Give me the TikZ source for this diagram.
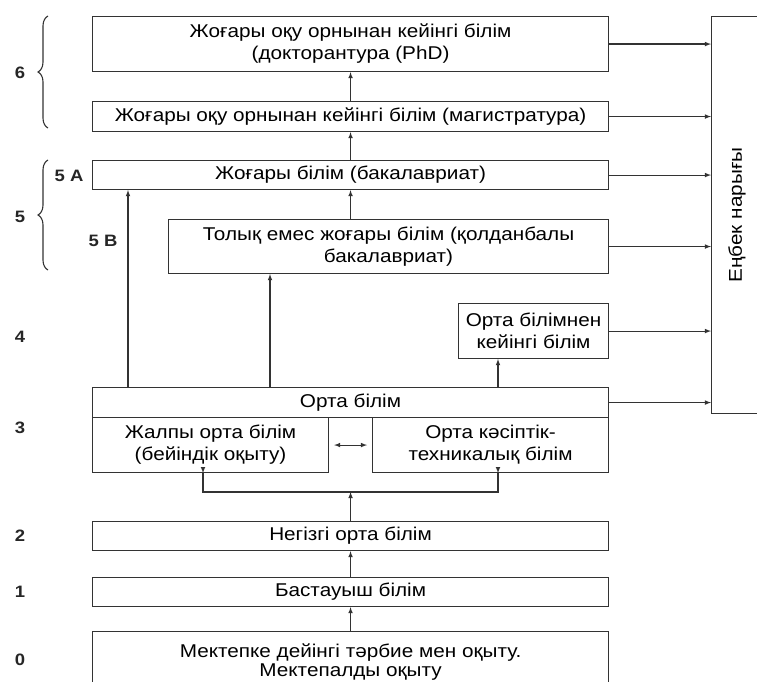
\documentclass[tikz,border=0pt]{standalone}
\usepackage{fontspec}
\setmainfont[FakeStretch=1.12]{Liberation Sans}
\usepackage{tikz}
\usetikzlibrary{arrows.meta,positioning,calc,decorations.pathreplacing}
\tikzset{>=latex}
\tikzset{
  box/.style={draw=black!80, line width=1.1pt, anchor=north west, align=center, inner sep=0pt,
    font=\fontsize{18.5}{22}\selectfont},
  lvl/.style={font=\fontsize{16.5}{18}\selectfont\bfseries, text=black!85},
  arr/.style={->, draw=black!80, line width=1.1pt},
  brc/.style={draw=black!80, line width=1.1pt, decorate, decoration={brace,amplitude=10pt}}
}

\begin{document}
\begin{tikzpicture}[x=1pt,y=-1pt]
    \useasboundingbox (0,0) rectangle (757,682);
    \clip (0,0) rectangle (757,682);
    % boxes
    \node[box, minimum width=516pt, minimum height=55pt] (phd) at (92,16) {Жоғары оқу орнынан кейінгі білім\\(докторантура (PhD)};
    \node[box, minimum width=516pt, minimum height=30pt] (mag) at (92,101) {Жоғары оқу орнынан кейінгі білім (магистратура)};
    \node[box, minimum width=516pt, minimum height=29pt] (bak) at (92,160) {Жоғары білім (бакалавриат)};
    \node[box, minimum width=440pt, minimum height=54pt] (tolyq) at (168,219) {Толық емес жоғары білім (қолданбалы\\бакалавриат)};
    \node[box, minimum width=150pt, minimum height=55pt] (ortakei) at (458,303) {Орта білімнен\\кейінгі білім};
    \node[box, minimum width=516pt, minimum height=30pt] (orta) at (92,387) {Орта білім};
    \node[box, minimum width=236pt, minimum height=55pt] (zhalpy) at (92,417) {Жалпы орта білім\\(бейіндік оқыту)};
    \node[box, minimum width=236pt, minimum height=55pt] (kasip) at (372,417) {Орта кәсіптік-\\техникалық білім};
    \node[box, minimum width=516pt, minimum height=29pt] (negizgi) at (92,521) {Негізгі орта білім};
    \node[box, minimum width=516pt, minimum height=29pt] (bastau) at (92,577) {Бастауыш білім};
    \node[box, minimum width=516pt, minimum height=60pt, font=\fontsize{18.5}{19}\selectfont] (mektep) at (92,631) {Мектепке дейінгі тәрбие мен оқыту.\\Мектепалды оқыту};
    \node[box, minimum width=80pt, minimum height=397pt] (market) at (711,16) {};
    \node[box, draw=none, anchor=center, rotate=90] (marketlbl) at (737,215) {Еңбек нарығы};
    % levels
    \node[lvl] (l6) at (20,73) {6};
    \node[lvl] (l5) at (20,217) {5};
    \node[lvl] (l4) at (20,337) {4};
    \node[lvl] (l3) at (20,428) {3};
    \node[lvl] (l2) at (20,536) {2};
    \node[lvl] (l1) at (20,592) {1};
    \node[lvl] (l0) at (20,660) {0};
    \node[lvl] (l5a) at (69,176) {5 A};
    \node[lvl] (l5b) at (103,241) {5 B};
    \draw[brc] (48,128) -- (48,16);
    \draw[brc] (48,270) -- (48,160);
    % vertical arrows
    \draw[arr] (mag.north) -- (phd.south);
    \draw[arr] (bak.north) -- (mag.south);
    \draw[arr] (tolyq.north -| bak.north) -- (bak.south);
    \draw[arr] (orta.north -| 128,0) -- (bak.south -| 128,0);
    \draw[arr] (orta.north -| 270,0) -- (tolyq.south -| 270,0);
    \draw[arr] (orta.north -| 498,0) -- (ortakei.south -| 498,0);
    \draw[arr, <->] ($(zhalpy.east)+(5,0)$) -- ($(kasip.west)+(-5,0)$);
    \coordinate (fork) at ($(negizgi.north)+(0,-29)$);
    \draw[draw=black!80, line width=1.1pt] (zhalpy.south -| 203,0) -- (fork -| 203,0) -- (fork -| 498,0) -- (kasip.south -| 498,0);
    \draw[arr] (zhalpy.south -| 203,0) ++(0,-6) -- (zhalpy.south -| 203,0);
    \draw[arr] (kasip.south -| 498,0) ++(0,-6) -- (kasip.south -| 498,0);
    \draw[arr] (negizgi.north) -- (fork);
    \draw[arr] (bastau.north) -- (negizgi.south);
    \draw[arr] (mektep.north) -- (bastau.south);
    % to the labour market
    \foreach \n in {phd,mag,bak,tolyq,ortakei,orta}
      \draw[arr] (\n.east) -- (\n.east -| market.west);
\end{tikzpicture}
\end{document}
